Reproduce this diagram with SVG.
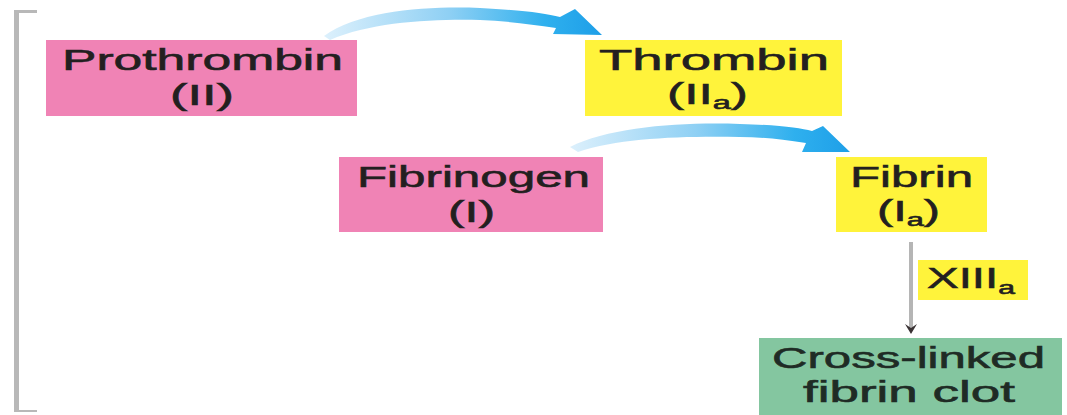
<svg xmlns="http://www.w3.org/2000/svg" width="1067" height="415" viewBox="0 0 1067 415">
  <style>
    .zymogen { fill: #f083b5; }
    .active { fill: #fff33b; }
    .clot { fill: #84c6a0; }
    .lbl { font-family: "Liberation Sans", Arial, sans-serif; font-size: 30px; fill: #231f20; stroke: #231f20; stroke-width: 0.6px; text-anchor: middle; }
    .lbl-clot { fill: #1f2b25; stroke: #1f2b25; }
    .sub { font-size: 19px; }
    .bracket { fill: #b8b8b8; }
  </style>
  <defs>
    <linearGradient id="blueFlow1" gradientUnits="userSpaceOnUse" x1="325" y1="0" x2="600" y2="0">
      <stop offset="0" stop-color="#dcf0fc"/>
      <stop offset="0.45" stop-color="#8fd0f4"/>
      <stop offset="0.8" stop-color="#2fb0ee"/>
      <stop offset="1" stop-color="#1e9fe8"/>
    </linearGradient>
    <linearGradient id="blueFlow2" gradientUnits="userSpaceOnUse" x1="570" y1="0" x2="850" y2="0">
      <stop offset="0" stop-color="#dcf0fc"/>
      <stop offset="0.45" stop-color="#8fd0f4"/>
      <stop offset="0.8" stop-color="#2fb0ee"/>
      <stop offset="1" stop-color="#1e9fe8"/>
    </linearGradient>
  </defs>

  <!-- left bracket -->
  <g id="bracket">
    <rect class="bracket" x="14" y="10" width="5" height="402"/>
    <rect class="bracket" x="14" y="10" width="23" height="3"/>
    <rect class="bracket" x="14" y="410" width="23" height="2"/>
  </g>

  <!-- connectors -->
  <g id="connectors">
    <path id="prothrombin-to-thrombin" fill="url(#blueFlow1)"
          d="M 324,36 C 360,10 430,6 480,8 C 520,10 545,13 560,17 L 575,9 L 602,35 L 553,34 L 556,28 C 530,24 505,21 480,20 C 430,19 372,22 330,40 Z"/>
    <path id="fibrinogen-to-fibrin" fill="url(#blueFlow2)"
          d="M 570,147 C 610,127 680,122 740,124 C 780,125 800,128 812,131 L 823,126 L 850,152 L 802,152 L 806,143 C 780,139 760,137 740,137 C 680,136 620,138 578,152 Z"/>
    <g id="fibrin-to-clot">
      <line x1="911" y1="242" x2="911" y2="328" stroke="#b5b5b5" stroke-width="4"/>
      <path d="M 905,324 L 911,334 L 917,324 L 911,328 Z" fill="#3a3234"/>
    </g>
  </g>

  <!-- nodes -->
  <g id="prothrombin">
    <rect class="zymogen" x="46" y="40" width="311" height="76"/>
    <text class="lbl" x="202.5" y="70" textLength="281" lengthAdjust="spacingAndGlyphs">Prothrombin</text>
    <text class="lbl" x="202" y="105" textLength="64" lengthAdjust="spacingAndGlyphs">(II)</text>
  </g>

  <g id="thrombin">
    <rect class="active" x="585" y="40" width="257" height="76"/>
    <text class="lbl" x="714" y="70" textLength="230" lengthAdjust="spacingAndGlyphs">Thrombin</text>
    <text class="lbl" x="707.5" y="104" textLength="81" lengthAdjust="spacingAndGlyphs">(II<tspan class="sub" dy="5">a</tspan><tspan dy="-5">)</tspan></text>
  </g>

  <g id="fibrinogen">
    <rect class="zymogen" x="339" y="157" width="264" height="75"/>
    <text class="lbl" x="473.5" y="187" textLength="233" lengthAdjust="spacingAndGlyphs">Fibrinogen</text>
    <text class="lbl" x="471.5" y="222" textLength="47" lengthAdjust="spacingAndGlyphs">(I)</text>
  </g>

  <g id="fibrin">
    <rect class="active" x="836" y="157" width="151" height="75"/>
    <text class="lbl" x="911.5" y="187" textLength="123" lengthAdjust="spacingAndGlyphs">Fibrin</text>
    <text class="lbl" x="908.5" y="221" textLength="63" lengthAdjust="spacingAndGlyphs">(I<tspan class="sub" dy="5">a</tspan><tspan dy="-5">)</tspan></text>
  </g>

  <g id="factor-xiiia">
    <rect class="active" x="918" y="260" width="110" height="40"/>
    <text class="lbl" x="971" y="288" textLength="88" lengthAdjust="spacingAndGlyphs">XIII<tspan class="sub" dy="6">a</tspan></text>
  </g>

  <g id="cross-linked-clot">
    <rect class="clot" x="759" y="338" width="303" height="77"/>
    <text class="lbl lbl-clot" x="908.5" y="368" textLength="273" lengthAdjust="spacingAndGlyphs">Cross-linked</text>
    <text class="lbl lbl-clot" x="909" y="402" textLength="212" lengthAdjust="spacingAndGlyphs">fibrin clot</text>
  </g>
</svg>
